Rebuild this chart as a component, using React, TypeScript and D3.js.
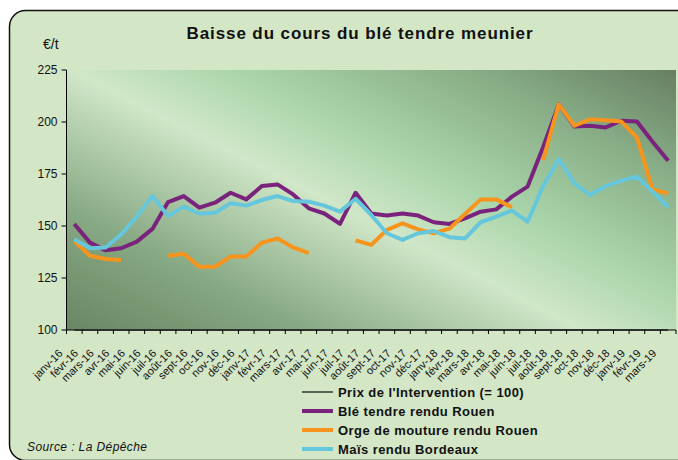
import React from "react";
import * as d3 from "d3";

const categories = [
  "janv-16","févr-16","mars-16","avr-16","mai-16","juin-16","juil-16","août-16","sept-16","oct-16","nov-16","déc-16",
  "janv-17","févr-17","mars-17","avr-17","mai-17","juin-17","juil-17","août-17","sept-17","oct-17","nov-17","déc-17",
  "janv-18","févr-18","mars-18","avr-18","mai-18","juin-18","juil-18","août-18","sept-18","oct-18","nov-18","déc-18",
  "janv-19","févr-19","mars-19",
];

const intervention = categories.map(() => 100);

const ble: (number | null)[] = [
  151, 142, 138.3, 139.3, 142.5, 148.6, 161.5, 164.4, 158.8, 161.2, 166, 162.8,
  169.2, 170, 165.2, 158.5, 156, 151, 166, 156, 155, 156, 155, 151.8,
  151, 153.7, 156.9, 158, 164.1, 168.9, 188, 208.5, 197.8, 198.2, 197.4, 200.6,
  200.2, 190.5, 181.4,
];

const orge: (number | null)[] = [
  142.8, 135.7, 134.1, 133.7, null, null, 135.7, 136.7, 130.4, 130.4, 135.3, 135.3,
  142, 144, 139.7, 136.9, null, null, 143.1, 140.9, 148.1, 151.3, 148.4, 146.5,
  148.7, 155.8, 162.8, 162.8, 159, null, 181.7, 208.5, 198.2, 201.3, 200.8, 200.2,
  192.5, 167.6, 165.7,
];

const mais: (number | null)[] = [
  143.6, 139.3, 139.7, 146, 154.5, 164.4, 154.8, 159.3, 155.9, 156.4, 160.9, 159.8,
  162.5, 164.4, 162, 161.7, 159.8, 156.9, 163.1, 155.3, 146.5, 143.3, 146.5, 147.6,
  144.6, 144, 151.8, 154.5, 157.4, 152.1, 169.2, 182.2, 170.5, 164.9, 169.2, 171.8,
  173.7, 166.5, 159,
];

const yTicks = [100, 125, 150, 175, 200, 225];

const seriesNames = [
  "Prix de l'Intervention (= 100)",
  "Blé tendre rendu Rouen",
  "Orge de mouture rendu Rouen",
  "Maïs rendu Bordeaux",
];
const seriesColors = ["#5a635a", "#7a237c", "#f7941d", "#66c7dc"];
const seriesWidths = [2, 4, 4, 4];

const FONT = "'Liberation Sans', Arial, sans-serif";

export default function App() {
  const W = 678, H = 460;
  const left = 66.5, right = 676, top = 70, bottom = 330;
  const x = d3.scaleBand<string>().domain(categories).range([left, right]).padding(0);
  const y = d3.scaleLinear().domain([100, 225]).range([bottom, top]);
  const cx = (i: number) => (x(categories[i]) as number) + x.bandwidth() / 2;

  const line = d3
    .line<number | null>()
    .defined((d) => d != null)
    .x((_, i) => cx(i))
    .y((d) => y(d as number));

  const allSeries = [intervention, ble, orge, mais];

  const tickXs = categories.map((c) => x(c) as number).concat([right]);

  return (
    <svg width={W} height={H} style={{ position: "fixed", left: 0, top: 0, display: "block" }} fontFamily={FONT}>
      <defs>
        <linearGradient id="plotGrad" gradientUnits="userSpaceOnUse" x1={259} y1={438} x2={497} y2={-34}>
          <stop offset="0" stopColor="#66835f" />
          <stop offset="0.22" stopColor="#86a882" />
          <stop offset="0.46" stopColor="#d0e7c8" />
          <stop offset="0.6" stopColor="#aad5aa" />
          <stop offset="0.8" stopColor="#88ad86" />
          <stop offset="1" stopColor="#62795d" />
        </linearGradient>
      </defs>
      <rect x={0} y={0} width={W} height={H} fill="#ffffff" />
      <rect x={9.5} y={10.5} width={700} height={450} rx={16} ry={16} fill="#d3e6c6" stroke="#111" strokeWidth={1.5} />
      <text x={360} y={39} textAnchor="middle" fontSize={17} fontWeight="bold" letterSpacing={0.9} fill="#111">
        Baisse du cours du blé tendre meunier
      </text>
      <text x={43} y={49} fontSize={14} fill="#111">€/t</text>

      <rect x={left} y={top} width={right - left} height={bottom - top} fill="url(#plotGrad)" />

      {allSeries.map((s, k) => (
        <path
          key={k}
          d={line(s) || ""}
          fill="none"
          stroke={seriesColors[k]}
          strokeWidth={seriesWidths[k]}
          strokeLinejoin="round"
        />
      ))}

      {/* axes */}
      <line x1={left} y1={top} x2={left} y2={bottom} stroke="#000" strokeWidth={1} />
      <line x1={left} y1={bottom} x2={right} y2={bottom} stroke="#000" strokeWidth={1} />
      {yTicks.map((t) => (
        <g key={t}>
          <line x1={left - 5} x2={left} y1={y(t)} y2={y(t)} stroke="#000" />
          <text x={left - 9} y={y(t) + 4} textAnchor="end" fontSize={12} fill="#111">
            {t}
          </text>
        </g>
      ))}
      {tickXs.map((tx, i) => (
        <line key={i} x1={tx} x2={tx} y1={bottom} y2={bottom + 4} stroke="#000" />
      ))}
      {categories.map((c, i) => (
        <text
          key={c}
          transform={`translate(${cx(i) - 11},${bottom + 24}) rotate(-45)`}
          textAnchor="end"
          fontSize={11}
          fill="#111"
        >
          {c}
        </text>
      ))}

      {/* legend */}
      {seriesNames.map((n, k) => (
        <g key={n} transform={`translate(0,${392 + k * 19})`}>
          <line x1={302} x2={333} y1={0} y2={0} stroke={seriesColors[k]} strokeWidth={k === 0 ? 2 : 4} />
          <text x={338} y={4.8} fontSize={13} fontWeight="bold" letterSpacing={0.43} fill="#111">
            {n}
          </text>
        </g>
      ))}

      <text x={27} y={451} fontSize={12} fontStyle="italic" letterSpacing={0.4} fill="#111">
        Source : La Dépêche
      </text>
    </svg>
  );
}
